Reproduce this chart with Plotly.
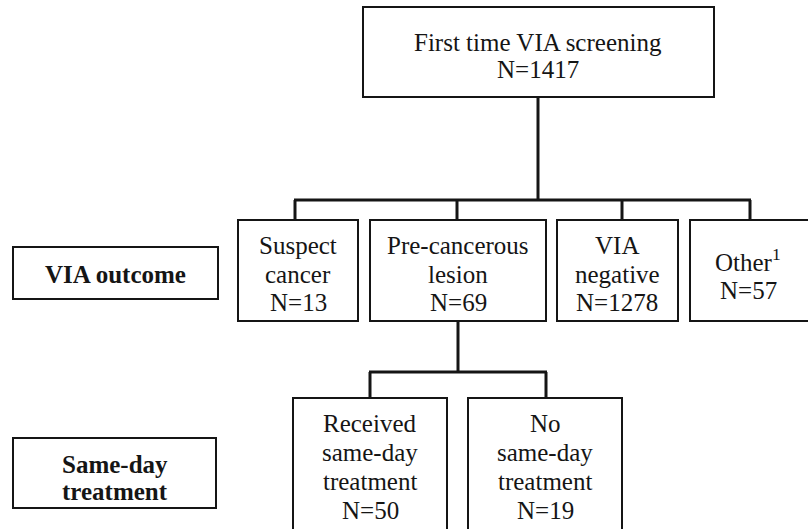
import plotly.graph_objects as go

# ---- content ----
node_labels = [
    "First time VIA screening<br>N=1417",
    "Suspect<br>cancer<br>N=13",
    "Pre-cancerous<br>lesion<br>N=69",
    "VIA<br>negative<br>N=1278",
    "Other<sup>1</sup><br>N=57",
    "Received<br>same-day<br>treatment<br>N=50",
    "No<br>same-day<br>treatment<br>N=19",
]
row_labels = ["VIA outcome", "Same-day<br>treatment"]

# ---- layout geometry (pixels, y downward) ----
node_x0 = [363, 238, 370, 557, 690, 293, 468]
node_x1 = [714, 358, 546, 678, 815, 447, 622]
node_y0 = [7, 220, 220, 220, 220, 398, 398]
node_y1 = [97, 321, 321, 321, 321, 545, 545]
node_tx = [538, 298, 458, 617, 748, 370, 545]
node_ty = [56, 274, 274, 274, 275, 467, 467]   # centre of text block
node_sp = [27, 28.5, 28.5, 28.5, 30, 28.7, 28.7]  # line spacing

row_x0 = [13, 13]
row_x1 = [218, 216]
row_y0 = [247, 438]
row_y1 = [299, 508]
row_ty = [274, 478]
row_sp = [27, 27]

# tree connections: (parent, children, bus y, drop x positions, parent x)
edges = [
    (0, [1, 2, 3, 4], 200, [295, 457, 622, 750], 538),
    (2, [5, 6], 372, [370, 546], 458),
]

W, H = 808, 529
fig = go.Figure()
fig.add_trace(go.Scatter(x=[0, W], y=[0, H], mode="markers",
                         marker=dict(opacity=0), hoverinfo="skip", showlegend=False))

shapes = []
annotations = []
BOX = dict(color="#151515", width=2)
CONN = dict(color="#151515", width=3)
FAM = "Liberation Serif"
FONT = dict(family=FAM, size=25, color="#151515")


def add_text(cx, cy, label, spacing, font, bold=False):
    lines = label.split("<br>")
    n = len(lines)
    for k, ln in enumerate(lines):
        txt = "<b>" + ln + "</b>" if bold else ln
        annotations.append(dict(x=cx, y=cy + (k - (n - 1) / 2) * spacing,
                                xref="x", yref="y", text=txt, showarrow=False,
                                font=font, xanchor="center", yanchor="middle"))


for i, lab in enumerate(node_labels):
    shapes.append(dict(type="rect", xref="x", yref="y", x0=node_x0[i], x1=node_x1[i],
                       y0=node_y0[i], y1=node_y1[i], line=BOX, fillcolor="rgba(0,0,0,0)"))
    add_text(node_tx[i], node_ty[i], lab, node_sp[i], FONT)

for i, lab in enumerate(row_labels):
    shapes.append(dict(type="rect", xref="x", yref="y", x0=row_x0[i], x1=row_x1[i],
                       y0=row_y0[i], y1=row_y1[i], line=BOX, fillcolor="rgba(0,0,0,0)"))
    add_text((row_x0[i] + row_x1[i]) / 2, row_ty[i], lab, row_sp[i], FONT, bold=True)

for parent, children, bus_y, drops, px in edges:
    shapes.append(dict(type="line", xref="x", yref="y", x0=px, x1=px,
                       y0=node_y1[parent], y1=bus_y, line=CONN))
    shapes.append(dict(type="line", xref="x", yref="y", x0=min(drops) - 1, x1=max(drops) + 1,
                       y0=bus_y, y1=bus_y, line=CONN))
    for c, dx in zip(children, drops):
        shapes.append(dict(type="line", xref="x", yref="y", x0=dx, x1=dx,
                           y0=bus_y, y1=node_y0[c], line=CONN))

fig.update_layout(
    width=W, height=H, margin=dict(l=0, r=0, t=0, b=0, pad=0),
    paper_bgcolor="white", plot_bgcolor="white",
    font=dict(family=FAM),
    xaxis=dict(range=[0, W], visible=False, fixedrange=True),
    yaxis=dict(range=[H, 0], visible=False, fixedrange=True),
    shapes=shapes, annotations=annotations, showlegend=False,
)
fig.write_html("out.html", config={"displayModeBar": False},
               post_script="document.body.style.margin='0';document.body.style.overflow='hidden';")
